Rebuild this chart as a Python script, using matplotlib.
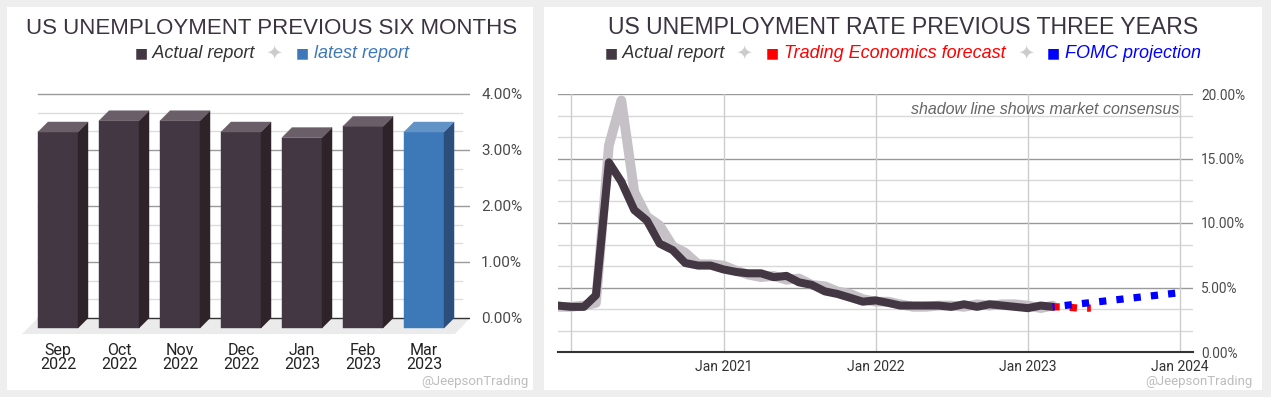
import numpy as np
import pandas as pd
import matplotlib
matplotlib.use("Agg")
import matplotlib.pyplot as plt
from matplotlib.patches import Polygon, Rectangle
from matplotlib.ticker import MultipleLocator

plt.rcParams['font.family'] = ['Roboto', 'DejaVu Sans']

# left chart: last six months + latest report
bar_months = ['Sep\n2022', 'Oct\n2022', 'Nov\n2022', 'Dec\n2022', 'Jan\n2023', 'Feb\n2023', 'Mar\n2023']
bar_rates = [3.5, 3.7, 3.7, 3.5, 3.4, 3.6, 3.5]
bar_ticks = [0, 1, 2, 3, 4]

# right chart: monthly rate since Dec 2019
line_start = '2019-12-01'
actual_rate = [3.6,
               3.5, 3.5, 4.4, 14.7, 13.2, 11.0, 10.2, 8.4, 7.9, 6.9, 6.7, 6.7,
               6.4, 6.2, 6.1, 6.1, 5.8, 5.9, 5.4, 5.2, 4.7, 4.5, 4.2, 3.9,
               4.0, 3.8, 3.6, 3.6, 3.6, 3.6, 3.5, 3.7, 3.5, 3.7, 3.6, 3.5,
               3.4, 3.6, 3.5]
consensus_rate = [3.5,
                  3.5, 3.6, 3.8, 16.0, 19.5, 12.4, 10.5, 9.8, 8.2, 7.7, 6.8, 6.8,
                  6.7, 6.3, 6.0, 5.8, 5.9, 5.6, 5.7, 5.2, 5.1, 4.7, 4.5, 4.1,
                  3.9, 3.9, 3.7, 3.5, 3.5, 3.6, 3.6, 3.5, 3.7, 3.6, 3.7, 3.7,
                  3.6, 3.4, 3.6]
te_months = ['2023-03-01', '2023-04-01', '2023-05-01', '2023-06-01']
te_forecast = [3.5, 3.5, 3.4, 3.4]
fomc_months = ['2023-03-01', '2024-01-01']
fomc_projection = [3.5, 4.6]
line_ticks = [0, 5, 10, 15, 20]
year_ticks = ['2021-01-01', '2022-01-01', '2023-01-01', '2024-01-01']
year_labels = ['Jan 2021', 'Jan 2022', 'Jan 2023', 'Jan 2024']
year_grid = ['2020-01-01', '2021-01-01', '2022-01-01', '2023-01-01', '2024-01-01']

DARK = '#433743'
ARIAL = ['Liberation Sans', 'DejaVu Sans']
W, H = 1271, 397
fig = plt.figure(figsize=(W / 100, H / 100), dpi=100, facecolor='#eeeeee')


def px_axes(x0, y0, x1, y1):
    return fig.add_axes([x0 / W, 1 - y1 / H, (x1 - x0) / W, (y1 - y0) / H])


def ftext(x, y, s, **kw):
    return fig.text(x / W, 1 - y / H, s, **kw)


def legend_row(cx, y, pieces):
    # place text pieces one after another, centred on cx
    r = fig.canvas.get_renderer()
    items = []
    total = 0
    for s, color, kw in pieces:
        t = ftext(0, y, s, color=color, ha='left', va='center', **kw)
        w = t.get_window_extent(r).width
        items.append((t, w))
        total += w
    x = cx - total / 2
    for t, w in items:
        t.set_x(x / W)
        x += w


# white panels
for x0, x1 in [(7, 533), (544, 1262)]:
    fig.patches.append(Rectangle((x0 / W, 1 - 390 / H), (x1 - x0) / W, 383 / H,
                                 transform=fig.transFigure, facecolor='white',
                                 edgecolor='none', zorder=-5))

# ---------------- left: 3D bars ----------------
ax1 = px_axes(22, 80, 470, 340)
ax1.set_xlim(-0.754, 6.59)
ax1.set_ylim(-0.393, 4.25)
ax1.set_facecolor('none')
for s in ax1.spines.values():
    s.set_visible(False)

dx, dy, bw = 0.164, 0.179, 0.656

# floor
ax1.add_patch(Polygon([(-0.754, -0.286), (-0.492, 0), (6.59, 0), (6.344, -0.286)],
                      closed=True, facecolor='#ebebeb', edgecolor='none', zorder=1))
# grid: major each 1%, two minor lines between
for k in range(13):
    v = k / 3
    if k % 3 == 0:
        col = '#333333' if k == 0 else '#9a9a9a'
        ax1.plot([-0.492, 6.59], [v, v], color=col, lw=1, zorder=2)
    else:
        ax1.plot([-0.492, 6.459], [v, v], color='#dcdcdc', lw=1, zorder=2)

for i, v in enumerate(bar_rates):
    if i == len(bar_rates) - 1:
        front, side, top = '#3d78b8', '#2b4e7a', '#6193c7'
    else:
        front, side, top = DARK, '#2d2329', '#6a5f68'
    l, r = i - bw / 2, i + bw / 2
    ax1.add_patch(Polygon([(l - dx, -dy), (r - dx, -dy), (r - dx, v - dy), (l - dx, v - dy)],
                          facecolor=front, edgecolor=front, lw=0.3, zorder=3))
    ax1.add_patch(Polygon([(r - dx, -dy), (r, 0), (r, v), (r - dx, v - dy)],
                          facecolor=side, edgecolor=side, lw=0.3, zorder=3))
    ax1.add_patch(Polygon([(l - dx, v - dy), (l, v), (r, v), (r - dx, v - dy)],
                          facecolor=top, edgecolor=top, lw=0.3, zorder=3))

ax1.yaxis.tick_right()
ax1.set_yticks(bar_ticks)
ax1.set_yticklabels(['%.2f%%' % t for t in bar_ticks])
ax1.set_xticks(np.arange(len(bar_months)) - dx)
ax1.set_xticklabels(bar_months, linespacing=0.95)
ax1.tick_params(axis='y', length=0, pad=8, labelsize=11, labelcolor='#4a4a4a')
ax1.tick_params(axis='x', length=0, pad=2, labelsize=11.5, labelcolor='#222222')

ftext(272, 28, 'US UNEMPLOYMENT PREVIOUS SIX MONTHS', ha='center', va='center',
      fontsize=16, color='#3b3340', family=ARIAL)
sq = dict(family=['DejaVu Sans'], fontsize=10)
it = dict(style='italic', fontsize=13, family=ARIAL)
star = ('  ✦  ', '#cccccc', dict(family=['DejaVu Sans'], fontsize=14))
legend_row(272, 53, [('■', DARK, sq), (' Actual report', '#333333', it), star,
                     ('■', '#3d78b8', sq), (' latest report', '#3d78b8', it)])
ftext(528, 381, '@JeepsonTrading', ha='right', va='center', fontsize=9.5, color='#bdbdbd')

# ---------------- right: line chart ----------------
ax2 = px_axes(558, 94, 1193, 352)
ax2.set_facecolor('none')
dates = pd.date_range(line_start, periods=len(actual_rate), freq='MS')
ax2.set_xlim(pd.Timestamp('2019-12-01'), pd.Timestamp('2024-02-01'))
ax2.set_ylim(0, 20)
for s in ['top', 'left', 'right']:
    ax2.spines[s].set_visible(False)
ax2.spines['bottom'].set_color('#333333')
ax2.spines['bottom'].set_linewidth(1.5)

ax2.yaxis.set_minor_locator(MultipleLocator(5 / 3))
ax2.grid(axis='y', which='major', color='#9a9a9a', lw=1)
ax2.grid(axis='y', which='minor', color='#d8d8d8', lw=1)
for d in year_grid:
    ax2.axvline(pd.Timestamp(d), color='#cccccc', lw=1, zorder=1)
ax2.set_axisbelow(True)

ax2.plot(dates, consensus_rate, color='#c6c1c6', lw=7,
         solid_joinstyle='round', solid_capstyle='round', zorder=3)
ax2.plot(dates, actual_rate, color=DARK, lw=5.8,
         solid_joinstyle='round', solid_capstyle='round', zorder=4)
ax2.plot(pd.to_datetime(te_months), te_forecast, color='#ff0000', lw=5.2,
         linestyle=(0, (1.0, 1.4)), dash_capstyle='butt', zorder=5)
ax2.plot(pd.to_datetime(fomc_months), fomc_projection, color='#0000ff', lw=5.2,
         linestyle=(0.7, (1.0, 1.4)), dash_capstyle='butt', zorder=6)

ax2.yaxis.tick_right()
ax2.set_yticks(line_ticks)
ax2.set_yticklabels(['%.2f%%' % t for t in line_ticks])
ax2.set_xticks(pd.to_datetime(year_ticks))
ax2.set_xticklabels(year_labels)
ax2.tick_params(axis='y', which='both', length=0, pad=6, labelsize=9.8, labelcolor='#4a4a4a')
ax2.tick_params(axis='x', length=0, pad=6, labelsize=10, labelcolor='#333333')

ftext(903, 28, 'US UNEMPLOYMENT RATE PREVIOUS THREE YEARS', ha='center', va='center',
      fontsize=16.6, color='#3b3340', family=ARIAL)
legend_row(903, 53, [('■', DARK, sq), (' Actual report', '#333333', it), star,
                     ('■', '#ff0000', sq), (' Trading Economics forecast', '#ff0000', it), star,
                     ('■', '#0000ff', sq), (' FOMC projection', '#0000ff', it)])
ftext(1179, 109, 'shadow line shows market consensus', ha='right', va='center',
      style='italic', fontsize=11.5, color='#666666', family=ARIAL)
ftext(1252, 381, '@JeepsonTrading', ha='right', va='center', fontsize=9.5, color='#bdbdbd')

fig.savefig('out.png', dpi=100, facecolor=fig.get_facecolor())
